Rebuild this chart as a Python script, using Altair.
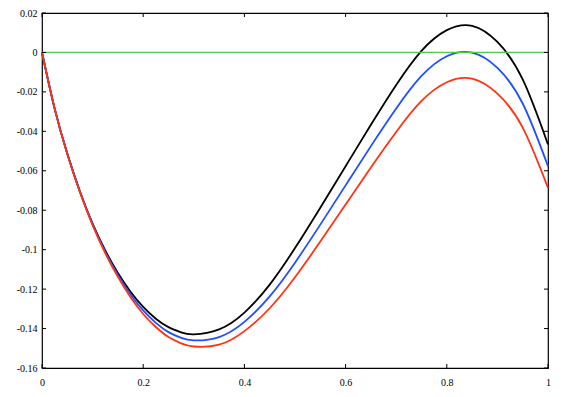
import altair as alt
import pandas as pd

# ---- data ----
x_vals = [0, 0.025, 0.05, 0.075, 0.1, 0.125, 0.15, 0.175, 0.2, 0.225, 0.25, 0.275, 0.3,
          0.35, 0.4, 0.45, 0.5, 0.55, 0.6, 0.65, 0.7, 0.75, 0.8, 0.85, 0.9, 0.95, 1.0]

black = [0, -0.0285, -0.0513, -0.0705, -0.0868, -0.1004, -0.1118, -0.1213, -0.1290,
         -0.1350, -0.1393, -0.1419, -0.1429, -0.1404, -0.1319, -0.1177, -0.0992,
         -0.0787, -0.0577, -0.0367, -0.0165, 0.0008, 0.0113, 0.0135, 0.0053,
         -0.0137, -0.0467]

blue = [0, -0.0285, -0.0514, -0.0707, -0.0872, -0.1011, -0.1128, -0.1227, -0.1308,
        -0.1371, -0.1418, -0.1447, -0.1460, -0.1443, -0.1366, -0.1237, -0.1066,
        -0.0873, -0.0674, -0.0475, -0.0284, -0.0119, -0.0019, -0.0001, -0.0078,
        -0.0259, -0.0577]

red = [0, -0.0285, -0.0515, -0.0709, -0.0876, -0.1018, -0.1138, -0.1241, -0.1326,
       -0.1392, -0.1443, -0.1475, -0.1491, -0.1482, -0.1413, -0.1297, -0.1140,
       -0.0959, -0.0771, -0.0583, -0.0403, -0.0246, -0.0151, -0.0133, -0.0209,
       -0.0381, -0.0687]

series_names = ["black", "blue", "red"]
series_colors = ["#000000", "#1f4fff", "#ff3311"]

x_ticks = [0, 0.2, 0.4, 0.6, 0.8, 1]
y_ticks = [0.02, 0, -0.02, -0.04, -0.06, -0.08, -0.1, -0.12, -0.14, -0.16]
zero_line = [0]

# ---- tables ----
rows = []
for name, ys in zip(series_names, [black, blue, red]):
    for xv, yv in zip(x_vals, ys):
        rows.append({"x": xv, "y": yv, "s": name})
df = pd.DataFrame(rows)

W, H = 506, 355
TL = 4
font = "Liberation Serif"

xscale = alt.Scale(domain=[0, 1], nice=False, zero=False)
yscale = alt.Scale(domain=[-0.16, 0.02], nice=False, zero=False)

xaxis = alt.Axis(values=x_ticks, ticks=False, domain=False, grid=False,
                 labelFlush=False, labelPadding=9, labelFont=font, labelFontSize=10,
                 labelColor="#000", labelExpr="'' + datum.value", title=None)
yaxis = alt.Axis(values=y_ticks, ticks=False, domain=False, grid=False,
                 labelFlush=False, labelPadding=5, labelFont=font, labelFontSize=10,
                 labelColor="#000", labelExpr="'' + datum.value", title=None)

green = alt.Chart(pd.DataFrame({"y": zero_line})).mark_rule(color="#4ccc4c", strokeWidth=1.2).encode(
    y=alt.Y("y:Q", scale=yscale, axis=yaxis)
)

lines = alt.Chart(df).mark_line(strokeWidth=1.8, interpolate="natural").encode(
    x=alt.X("x:Q", scale=xscale, axis=xaxis),
    y=alt.Y("y:Q", scale=yscale, axis=yaxis),
    color=alt.Color("s:N", scale=alt.Scale(domain=series_names, range=series_colors), legend=None),
    detail="s:N",
)

yt = pd.DataFrame({"y": y_ticks})
xt = pd.DataFrame({"x": x_ticks})

left_t = alt.Chart(yt).mark_rule(color="#000", strokeWidth=1).encode(
    y=alt.Y("y:Q", scale=yscale, axis=yaxis), x=alt.value(0), x2=alt.value(TL))
right_t = alt.Chart(yt).mark_rule(color="#000", strokeWidth=1).encode(
    y=alt.Y("y:Q", scale=yscale, axis=yaxis), x=alt.value(W - TL), x2=alt.value(W))
bottom_t = alt.Chart(xt).mark_rule(color="#000", strokeWidth=1).encode(
    x=alt.X("x:Q", scale=xscale, axis=xaxis), y=alt.value(H - TL), y2=alt.value(H))
top_t = alt.Chart(xt).mark_rule(color="#000", strokeWidth=1).encode(
    x=alt.X("x:Q", scale=xscale, axis=xaxis), y=alt.value(0), y2=alt.value(TL))

chart = alt.layer(lines, green, left_t, right_t, bottom_t, top_t).properties(
    width=W, height=H,
    autosize=alt.AutoSizeParams(type="none"),
    padding={"left": 34, "top": 5, "right": 9, "bottom": 21},
).configure_view(stroke="#000", strokeWidth=1.2)

chart.save("out.html", embed_options={"renderer": "svg", "actions": False})
